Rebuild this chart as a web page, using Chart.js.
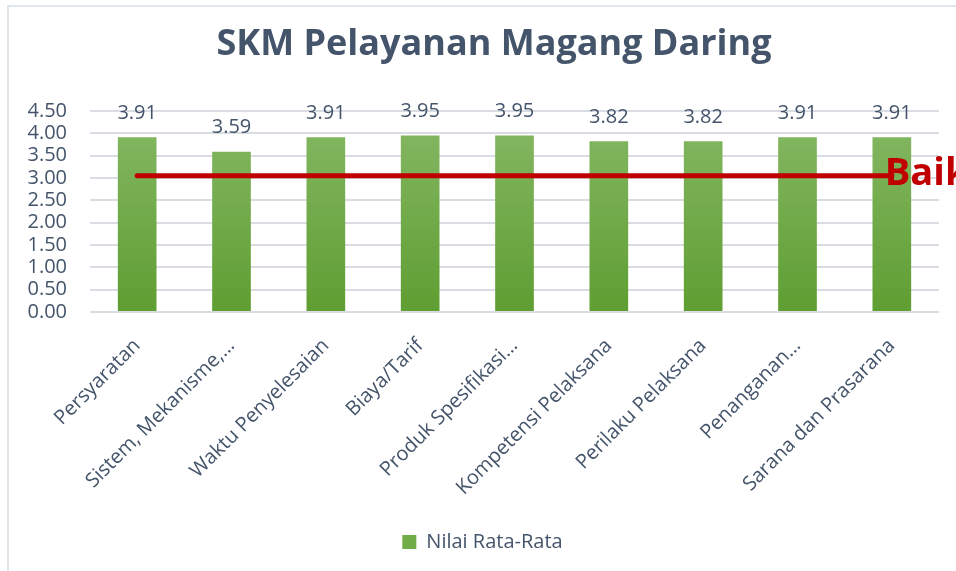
<!DOCTYPE html>
<html>
<head>
<meta charset="utf-8">
<script src="https://cdn.jsdelivr.net/npm/chart.js@4.4.1/dist/chart.umd.min.js"></script>
<style>
    html, body { margin: 0; padding: 0; background: #fff; overflow: hidden; }
    #frame {
        position: absolute; left: 7px; top: 5px;
        width: 1000px; height: 700px;
        border-left: 2px solid #e1e5ec; border-top: 2px solid #e1e5ec;
    }
    #wrap { position: absolute; left: 0; top: 0; width: 956px; height: 571px; }
</style>
</head>
<body>
<div id="frame"></div>
<div id="wrap"><canvas id="skmChart"></canvas></div>
<script>
// === Data ===
var chartTitle = 'SKM Pelayanan Magang Daring';
var categories = [
    'Persyaratan',
    'Sistem, Mekanisme,…',
    'Waktu Penyelesaian',
    'Biaya/Tarif',
    'Produk Spesifikasi…',
    'Kompetensi Pelaksana',
    'Perilaku Pelaksana',
    'Penanganan…',
    'Sarana dan Prasarana'
];
var nilaiRataRata = [3.91, 3.59, 3.91, 3.95, 3.95, 3.82, 3.82, 3.91, 3.91];
var batasBaik = [3.05, 3.05, 3.05, 3.05, 3.05, 3.05, 3.05, 3.05, 3.05];
var yTicks = [0, 0.5, 1, 1.5, 2, 2.5, 3, 3.5, 4, 4.5];

var textColor = '#44546a';
var fontFamily = "'Open Sans', 'Noto Sans', sans-serif";

// green gradient like the office chart
function barGradient(context) {
    var chart = context.chart;
    var area = chart.chartArea;
    if (!area) return '#70ad47';
    var g = chart.ctx.createLinearGradient(0, area.top, 0, area.bottom);
    g.addColorStop(0, '#86b865');
    g.addColorStop(1, '#5f9e32');
    return g;
}

// title (centred on the whole office chart frame, which is wider than the crop)
var titlePlugin = {
    id: 'titlePlugin',
    afterDraw: function(chart) {
        var ctx = chart.ctx;
        ctx.save();
        ctx.fillStyle = textColor;
        ctx.font = 'bold 36px ' + fontFamily;
        ctx.textAlign = 'center';
        ctx.textBaseline = 'middle';
        ctx.fillText(chartTitle, 494, 45);
        ctx.restore();
    }
};

// value labels above bars + "Baik" tag at line end
var labelsPlugin = {
    id: 'labelsPlugin',
    afterDatasetsDraw: function(chart) {
        var ctx = chart.ctx;
        ctx.save();
        var barMeta = chart.getDatasetMeta(0);
        ctx.fillStyle = textColor;
        ctx.font = '20px ' + fontFamily;
        ctx.textAlign = 'center';
        ctx.textBaseline = 'bottom';
        barMeta.data.forEach(function(bar, i) {
            ctx.fillText(nilaiRataRata[i].toFixed(2), bar.x, bar.y - 14);
        });
        var lineMeta = chart.getDatasetMeta(1);
        var last = lineMeta.data[lineMeta.data.length - 1];
        ctx.fillStyle = '#c00000';
        ctx.font = 'bold 38px ' + fontFamily;
        ctx.textAlign = 'left';
        ctx.textBaseline = 'middle';
        ctx.fillText('Baik', last.x - 7, last.y - 2);
        ctx.restore();
    }
};

var ctxSkm = document.getElementById('skmChart').getContext('2d');
new Chart(ctxSkm, {
    type: 'bar',
    data: {
        labels: categories,
        datasets: [{
            label: 'Nilai Rata-Rata',
            data: nilaiRataRata,
            backgroundColor: barGradient,
            borderWidth: 0,
            barPercentage: 0.82,
            categoryPercentage: 0.5,
            order: 2
        }, {
            type: 'line',
            label: 'Baik',
            data: batasBaik,
            borderColor: '#c00000',
            borderWidth: 5,
            borderCapStyle: 'round',
            pointRadius: 0,
            fill: false,
            order: 1
        }]
    },
    options: {
        responsive: true,
        maintainAspectRatio: false,
        animation: false,
        layout: { padding: { left: 26, right: 17, top: 111, bottom: 9 } },
        plugins: {
            title: { display: false },
            legend: {
                position: 'bottom',
                labels: {
                    color: textColor,
                    font: { family: fontFamily, size: 20 },
                    boxWidth: 14,
                    boxHeight: 14,
                    generateLabels: function(chart) {
                        return [{
                            text: 'Nilai Rata-Rata',
                            fillStyle: '#70ad47',
                            strokeStyle: '#70ad47',
                            lineWidth: 0,
                            datasetIndex: 0,
                            fontColor: textColor
                        }];
                    }
                }
            },
            tooltip: { enabled: false }
        },
        scales: {
            x: {
                grid: { display: false },
                border: { display: false },
                ticks: {
                    color: textColor,
                    font: { family: fontFamily, size: 20 },
                    minRotation: 45,
                    maxRotation: 45,
                    autoSkip: false,
                    padding: 14
                },
                afterFit: function(scale) {
                    scale.height = 210;
                    scale.paddingLeft = 0;
                    scale.paddingRight = 0;
                }
            },
            y: {
                min: 0,
                max: 4.5,
                afterBuildTicks: function(scale) {
                    scale.ticks = yTicks.map(function(v) { return { value: v }; });
                },
                grid: { color: '#d9dde3', lineWidth: 2, drawTicks: false },
                border: { display: false },
                ticks: {
                    color: textColor,
                    font: { family: fontFamily, size: 20 },
                    padding: 23,
                    autoSkip: false,
                    callback: function(v) { return Number(v).toFixed(2); }
                },
                afterFit: function(scale) { scale.width = 64; }
            }
        }
    },
    plugins: [labelsPlugin, titlePlugin]
});
</script>
</body>
</html>
